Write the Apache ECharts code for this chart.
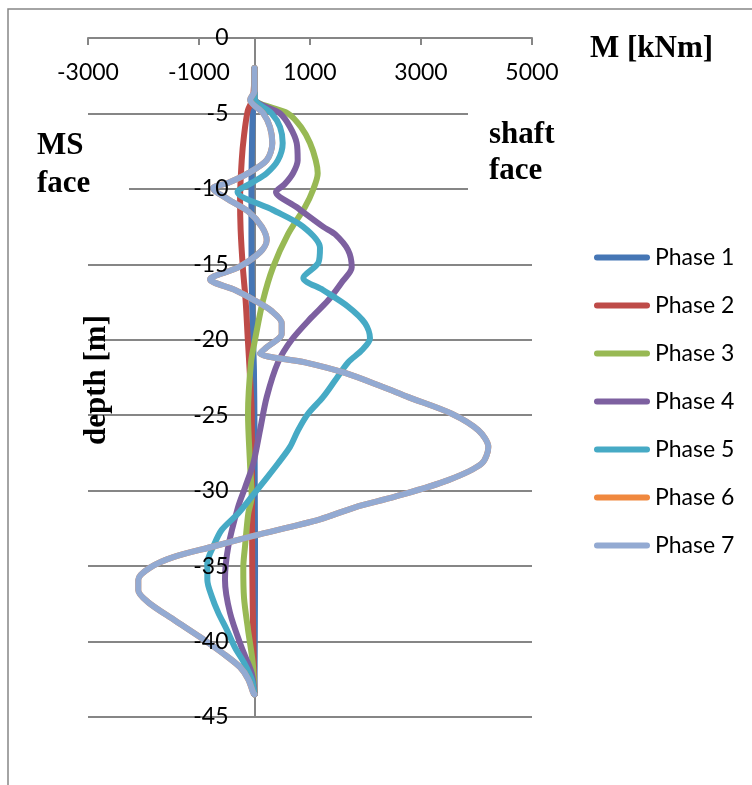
<!DOCTYPE html>
<html>
<head>
<meta charset="utf-8">
<title>Bending moment along the wall</title>
<script src="https://cdn.jsdelivr.net/npm/echarts@6/dist/echarts.min.js"></script>
<style>
  html, body { margin: 0; padding: 0; background: #fff; }
  #chart { width: 752px; height: 785px; }
</style>
</head>
<body>
<div id="chart"></div>
<script>
// Bending moment M [kNm] against depth [m] for each construction phase.
const phaseNames = ['Phase 1', 'Phase 2', 'Phase 3', 'Phase 4', 'Phase 5', 'Phase 6', 'Phase 7'];
const phaseColors = ['#4576B5', '#BE4B48', '#98B954', '#7D60A0', '#46AAC5', '#F0883E', '#93AAD2'];

const xTicks = [-3000, -1000, 1000, 3000, 5000];
const depthTicks = [0, -5, -10, -15, -20, -25, -30, -35, -40, -45];

const phase1Depth = [-2, -4, -5, -7, -10, -13, -16, -19, -22, -26, -30, -35, -40, -43.5];
const phase1M     = [0, 0, -30, -45, -55, -55, -50, -35, -10, 0, 5, 10, 5, 0];

const phase2Depth = [-2, -4, -4.8, -6.5, -8.1, -10.7, -12.7, -15.2, -17.4, -20, -22.5, -24.9, -30.4, -35, -38.1, -41, -43.5];
const phase2M     = [0, -30, -120, -190, -230, -260, -250, -210, -160, -120, -80, -50, -45, -40, -30, -15, 0];

const phase3Depth = [-2, -4, -5, -5.9, -6.96, -8.1, -8.96, -10.07, -11.2, -13, -15.2, -17.4, -20, -21.5, -24.9, -28.2, -30.4, -31.5, -33.7, -35.1, -37.1, -39.2, -41.4, -43.5];
const phase3M     = [0, 0, 604, 838, 1000, 1103, 1139, 1054, 910, 604, 333, 153, 9, -63, -117, -81, -50, -112, -171, -202, -189, -117, -32, 0];

const phase4Depth = [-2, -4, -5, -5.9, -6.96, -8.1, -8.96, -9.7, -10.2, -11.2, -12.5, -13, -14.05, -15.2, -16.2, -17.4, -18.5, -20, -21.5, -23.8, -26, -28.2, -29.8, -31.1, -33.7, -35.9, -38.1, -40.4, -42.1, -43.5];
const phase4M     = [0, 0, 459, 640, 760, 778, 694, 540, 387, 755, 1234, 1451, 1685, 1752, 1571, 1324, 1031, 670, 423, 220, 99, -22, -171, -297, -472, -532, -441, -231, -50, 0];

const phase5Depth = [-2, -4, -5, -5.9, -6.96, -8.1, -8.96, -9.6, -10.2, -11.4, -12.5, -13.9, -14.9, -15.9, -16.7, -17.8, -18.9, -19.9, -20.7, -21.5, -22.7, -23.8, -24.9, -26, -27.1, -28.2, -29.3, -30.4, -31.5, -32.6, -33.7, -34.8, -35.9, -37, -38.1, -39.2, -40.4, -41.4, -42.5, -43.5];
const phase5M     = [0, 0, 310, 460, 508, 423, 220, -50, -306, 333, 874, 1180, 1150, 880, 1234, 1685, 1991, 2081, 1932, 1685, 1451, 1234, 964, 784, 640, 423, 189, -50, -292, -591, -742, -850, -850, -771, -652, -501, -351, -189, -50, 0];

// Phase 6 runs along the same line as Phase 7 and is hidden underneath it.
const phase6Depth = [-2, -3.5, -4.1, -5, -5.9, -6.96, -8.1, -8.96, -9.6, -9.95, -10.7, -11.5, -12.5, -13.4, -14.2, -15.2, -16, -16.7, -17.4, -18.1, -18.9, -19.6, -20.5, -20.9, -21.5, -22.2, -23.1, -23.8, -24.9, -26, -27.1, -28.2, -29.3, -30.4, -31.1, -31.9, -33, -33.7, -34.4, -35.1, -35.9, -36.6, -37.4, -38.6, -39.7, -40.8, -41.7, -42.5, -43.4, -43.5];
const phase6M     = [0, 0, -80, 159, 279, 321, 220, -112, -472, -748, -470, -112, 130, 220, 99, -292, -802, -351, 9, 310, 490, 490, 220, 99, 910, 1631, 2292, 2771, 3554, 4033, 4213, 4094, 3492, 2532, 1811, 1180, -22, -742, -1463, -1883, -2094, -2094, -1914, -1433, -982, -562, -261, -112, -22, 0];

const phase7Depth = [-2, -3.5, -4.1, -5, -5.9, -6.96, -8.1, -8.96, -9.6, -9.95, -10.7, -11.5, -12.5, -13.4, -14.2, -15.2, -16, -16.7, -17.4, -18.1, -18.9, -19.6, -20.5, -20.9, -21.5, -22.2, -23.1, -23.8, -24.9, -26, -27.1, -28.2, -29.3, -30.4, -31.1, -31.9, -33, -33.7, -34.4, -35.1, -35.9, -36.6, -37.4, -38.6, -39.7, -40.8, -41.7, -42.5, -43.4, -43.5];
const phase7M     = [0, 0, -80, 159, 279, 321, 220, -112, -472, -748, -470, -112, 130, 220, 99, -292, -802, -351, 9, 310, 490, 490, 220, 99, 910, 1631, 2292, 2771, 3554, 4033, 4213, 4094, 3492, 2532, 1811, 1180, -22, -742, -1463, -1883, -2094, -2094, -1914, -1433, -982, -562, -261, -112, -22, 0];

const depths = [phase1Depth, phase2Depth, phase3Depth, phase4Depth, phase5Depth, phase6Depth, phase7Depth];
const moments = [phase1M, phase2M, phase3M, phase4M, phase5M, phase6M, phase7M];

const AXIS_GRAY = '#868686';
const LABEL_FONT = 'Lato, "Open Sans", sans-serif';
const SERIF = '"Liberation Serif", "DejaVu Serif", serif';
// Rounded bar used as the legend key (a thick line with round ends).
const LEGEND_KEY = 'path://M3,0 L53,0 A3,3 0 0 1 53,6 L3,6 A3,3 0 0 1 3,0 Z';

const GRID = { left: 88, right: 220, top: 38, bottom: 68 };
// Depth labels sit just left of the vertical zero line (x = 0 on the moment axis).
const plotWidth = 752 - GRID.left - GRID.right;
const zeroX = GRID.left + plotWidth * (0 - xTicks[0]) / (xTicks[xTicks.length - 1] - xTicks[0]);
const depthLabelGap = 26;

const depthRange = {
  type: 'value',
  min: depthTicks[depthTicks.length - 1],
  max: depthTicks[0],
  interval: depthTicks[0] - depthTicks[1]
};

const series = phaseNames.map((name, i) => ({
  name: name,
  type: 'line',
  xAxisIndex: 0,
  yAxisIndex: 0,
  data: depths[i].map((d, k) => [moments[i][k], d]),
  showSymbol: false,
  symbol: 'none',
  smooth: 0.3,
  color: phaseColors[i],
  lineStyle: { width: 6, color: phaseColors[i], cap: 'round', join: 'round' },
  z: 2 + i
}));

const chart = echarts.init(document.getElementById('chart'), null, { renderer: 'canvas' });
chart.setOption({
  animation: false,
  backgroundColor: '#fff',
  grid: { left: GRID.left, right: GRID.right, top: GRID.top, bottom: GRID.bottom, containLabel: false },
  xAxis: {
    type: 'value',
    position: 'top',
    min: xTicks[0],
    max: xTicks[xTicks.length - 1],
    interval: xTicks[1] - xTicks[0],
    axisLine: { show: true, onZero: true, lineStyle: { color: AXIS_GRAY, width: 2 } },
    axisTick: { show: true, inside: true, length: 7, lineStyle: { color: AXIS_GRAY, width: 2 } },
    axisLabel: { inside: true, margin: 23, color: '#000', fontSize: 23, fontFamily: LABEL_FONT,
      formatter: v => String(v) },
    splitLine: { show: false }
  },
  yAxis: [
    // Gridlines and the vertical zero line, behind the curves.
    Object.assign({}, depthRange, {
      position: 'left',
      axisLine: { show: true, onZero: true, lineStyle: { color: AXIS_GRAY, width: 2 } },
      axisTick: { show: false },
      axisLabel: { show: false },
      splitLine: { show: true, lineStyle: { color: AXIS_GRAY, width: 2 } }
    }),
    // Depth labels, drawn above the curves.
    Object.assign({}, depthRange, {
      position: 'left',
      z: 20,
      axisLine: { show: false, onZero: false },
      axisTick: { show: false },
      splitLine: { show: false },
      axisLabel: { margin: -(zeroX - depthLabelGap - GRID.left), color: '#000', fontSize: 23, fontFamily: LABEL_FONT,
        formatter: v => String(v) }
    })
  ],
  legend: {
    orient: 'vertical',
    left: 589,
    top: 241,
    itemWidth: 56,
    itemHeight: 6,
    itemGap: 25,
    icon: LEGEND_KEY,
    textStyle: { color: '#000', fontSize: 23, fontFamily: LABEL_FONT },
    data: phaseNames
  },
  graphic: [
    { type: 'rect', z: 0, silent: true,
      shape: { x: 8, y: 9, width: 800, height: 800 },
      style: { fill: 'none', stroke: AXIS_GRAY, lineWidth: 1.5 } },
    { type: 'rect', z: 50, silent: true,
      shape: { x: 468, y: 100, width: 100, height: 100 },
      style: { fill: '#fff' } },
    { type: 'text', z: 51, silent: true, left: 489, top: 117,
      style: { text: 'shaft\nface', font: 'bold 31px ' + SERIF, fill: '#000', lineHeight: 36 } },
    { type: 'rect', z: 50, silent: true,
      shape: { x: 20, y: 120, width: 109, height: 88 },
      style: { fill: '#fff' } },
    { type: 'text', z: 51, silent: true, left: 37, top: 127,
      style: { text: 'MS\nface', font: 'bold 31px ' + SERIF, fill: '#000', lineHeight: 38 } },
    { type: 'text', z: 51, silent: true, left: 590, top: 33,
      style: { text: 'M [kNm]', font: 'bold 31px ' + SERIF, fill: '#000' } },
    { type: 'text', z: 51, silent: true, x: 97, y: 380, rotation: Math.PI / 2,
      style: { text: 'depth [m]', font: 'bold 31px ' + SERIF, fill: '#000', align: 'center', verticalAlign: 'middle' } }
  ],
  series: series
});
</script>
</body>
</html>
